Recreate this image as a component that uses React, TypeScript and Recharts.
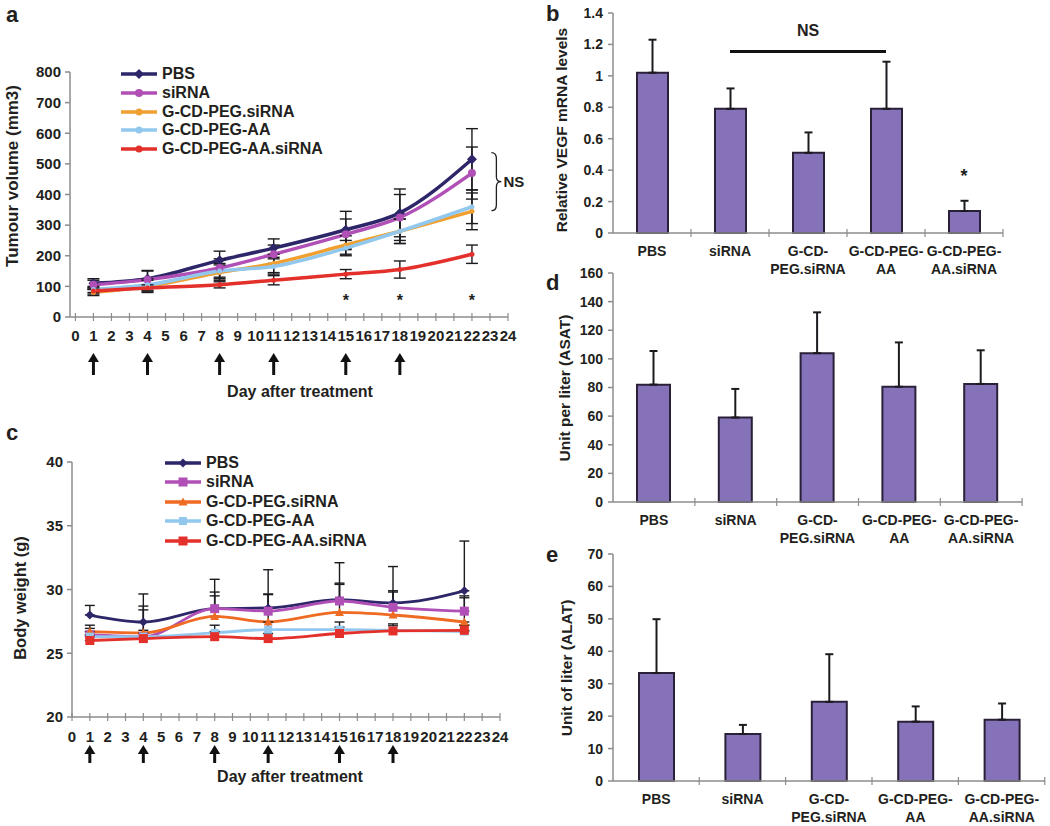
import React from 'react'
import {
  ComposedChart,
  Line,
  XAxis,
  YAxis,
  ErrorBar,
  ReferenceDot,
  ReferenceLine,
  BarChart,
  Bar,
} from 'recharts'

const FONT = '"Liberation Sans", Arial, Helvetica, sans-serif'
const INK = '#231f20'
const AXIS = '#8c8c8c'
const BAR_FILL = '#8672b8'
const BAR_EDGE = '#2a2138'
const ERR = '#1c1a1f'

// ---- shared x axis for the time courses (a, c)
const dayLabels = [0, 1, 2, 3, 4, 5, 6, 7, 8, 9, 10, 11, 12, 13, 14, 15, 16, 17, 18, 19, 20, 21, 22, 23, 24]
const treatmentDays = [1, 4, 8, 11, 15, 18]
const measureDays = [1, 4, 8, 11, 15, 18, 22]
const starDays = [15, 18, 22]

const groups = ['PBS', 'siRNA', 'G-CD-PEG.siRNA', 'G-CD-PEG-AA', 'G-CD-PEG-AA.siRNA']
const groupLabelLines = [['PBS'], ['siRNA'], ['G-CD-', 'PEG.siRNA'], ['G-CD-PEG-', 'AA'], ['G-CD-PEG-', 'AA.siRNA']]

// ---- a: tumour volume (mm3)
const tumourPBS = [110, 125, 185, 225, 285, 340, 515]
const tumourSiRNA = [105, 122, 160, 205, 270, 325, 470]
const tumourPegSiRNA = [80, 100, 145, 175, 235, 280, 345]
const tumourPegAA = [90, 105, 150, 165, 225, 280, 360]
const tumourPegAASiRNA = [85, 95, 105, 120, 140, 155, 205]
const tumourPBSErr = [15, 25, 30, 30, 60, 78, 100]
const tumourSiRNAErr = [15, 30, 30, 30, 50, 75, 85]
const tumourPegSiRNAErr = [10, 20, 25, 30, 30, 40, 60]
const tumourPegAAErr = [10, 20, 25, 25, 25, 40, 55]
const tumourPegAASiRNAErr = [10, 10, 10, 15, 15, 28, 30]

// ---- c: body weight (g), upper error only
const weightPBS = [28.0, 27.45, 28.5, 28.55, 29.2, 28.95, 29.9]
const weightSiRNA = [26.45, 26.3, 28.5, 28.3, 29.1, 28.6, 28.3]
const weightPegSiRNA = [26.7, 26.6, 27.9, 27.45, 28.2, 28.0, 27.45]
const weightPegAA = [26.3, 26.3, 26.6, 26.85, 26.85, 26.8, 26.7]
const weightPegAASiRNA = [26.0, 26.15, 26.3, 26.15, 26.55, 26.75, 26.8]
const weightPBSErr = [0.75, 2.2, 2.3, 3.0, 2.9, 2.85, 3.9]
const weightSiRNAErr = [0.5, 2.4, 1.3, 1.3, 1.4, 1.3, 1.2]
const weightPegSiRNAErr = [0.5, 1.8, 1.6, 2.2, 2.2, 1.8, 1.9]
const weightPegAAErr = [0.4, 0.5, 0.6, 0.6, 0.6, 0.5, 0.5]
const weightPegAASiRNAErr = [0.4, 0.4, 0.4, 0.4, 0.5, 0.4, 0.4]

// ---- b, d, e: bar panels
const vegfMean = [1.02, 0.79, 0.51, 0.79, 0.14]
const vegfErr = [0.21, 0.13, 0.13, 0.3, 0.065]
const asatMean = [82, 59, 104, 80.5, 82.5]
const asatErr = [23.5, 20, 28.5, 31, 23.5]
const alatMean = [33.3, 14.5, 24.4, 18.3, 18.9]
const alatErr = [16.6, 2.8, 14.7, 4.7, 5.0]

const vegfTicks = [0, 0.2, 0.4, 0.6, 0.8, 1, 1.2, 1.4]
const asatTicks = [0, 20, 40, 60, 80, 100, 120, 140, 160]
const alatTicks = [0, 10, 20, 30, 40, 50, 60, 70]
const tumourTicks = [0, 100, 200, 300, 400, 500, 600, 700, 800]
const weightTicks = [20, 25, 30, 35, 40]

const tumourMeans = [tumourPBS, tumourSiRNA, tumourPegSiRNA, tumourPegAA, tumourPegAASiRNA]
const tumourErrs = [tumourPBSErr, tumourSiRNAErr, tumourPegSiRNAErr, tumourPegAAErr, tumourPegAASiRNAErr]
const weightMeans = [weightPBS, weightSiRNA, weightPegSiRNA, weightPegAA, weightPegAASiRNA]
const weightErrs = [weightPBSErr, weightSiRNAErr, weightPegSiRNAErr, weightPegAAErr, weightPegAASiRNAErr]

// styling per series (a and c use slightly different markers/colours)
const styleA = [
  { color: '#2d2668', marker: 'diamond', size: 5 },
  { color: '#b04fb6', marker: 'circle', size: 4 },
  { color: '#f0a030', marker: 'circle', size: 2.5 },
  { color: '#92c8ee', marker: 'circle', size: 2.5 },
  { color: '#e4302b', marker: 'circle', size: 2.5 },
]
const styleC = [
  { color: '#2d2668', marker: 'diamond', size: 4.5 },
  { color: '#b04fb6', marker: 'square', size: 4.5 },
  { color: '#ef6a22', marker: 'triangle', size: 4.5 },
  { color: '#92c8ee', marker: 'square', size: 4 },
  { color: '#e4302b', marker: 'square', size: 4.5 },
]

function buildRows(means: number[][], errs: number[][], upperOnly: boolean) {
  return measureDays.map((day, i) => {
    const row: any = { day }
    means.forEach((m, s) => {
      row[`s${s}`] = m[i]
      row[`e${s}`] = upperOnly ? [0, errs[s][i]] : errs[s][i]
    })
    return row
  })
}

function barRows(mean: number[], err: number[]) {
  return groups.map((g, i) => ({ group: g, value: mean[i], err: [0, err[i]] }))
}

const tumourRows = buildRows(tumourMeans, tumourErrs, false)
const weightRows = buildRows(weightMeans, weightErrs, true)
const vegfRows = barRows(vegfMean, vegfErr)
const asatRows = barRows(asatMean, asatErr)
const alatRows = barRows(alatMean, alatErr)

function Marker({ kind, cx, cy, size, color }: any) {
  if (cx == null || cy == null) return null
  if (kind === 'diamond')
    return <path d={`M${cx},${cy - size} L${cx + size},${cy} L${cx},${cy + size} L${cx - size},${cy} Z`} fill={color} />
  if (kind === 'square')
    return <rect x={cx - size} y={cy - size} width={size * 2} height={size * 2} fill={color} />
  if (kind === 'triangle')
    return <path d={`M${cx},${cy - size} L${cx + size},${cy + size * 0.8} L${cx - size},${cy + size * 0.8} Z`} fill={color} />
  return <circle cx={cx} cy={cy} r={size} fill={color} />
}

const tickText = { fill: INK, fontSize: 14, fontWeight: 700, fontFamily: FONT }
const dayTickText = { ...tickText, fontSize: 15 }

function DayTick(props: any) {
  const { x, y, payload, labelDy, arrowTop, arrowLen } = props
  const v = payload.value
  return (
    <g>
      <line x1={x} x2={x} y1={y - 4} y2={y + 4} stroke={AXIS} strokeWidth={1.2} />
      <text x={x} y={y + labelDy} textAnchor="middle" {...dayTickText}>
        {v}
      </text>
      {treatmentDays.includes(v) && (
        <g>
          <line x1={x} x2={x} y1={y + arrowTop + 7} y2={y + arrowTop + arrowLen} stroke="#111" strokeWidth={3} />
          <path d={`M${x},${y + arrowTop} L${x + 5.5},${y + arrowTop + 9} L${x - 5.5},${y + arrowTop + 9} Z`} fill="#111" />
        </g>
      )}
    </g>
  )
}

function GroupTick(props: any) {
  const { x, y, payload, band } = props
  const lines = groupLabelLines[groups.indexOf(payload.value)] || [payload.value]
  return (
    <g>
      <line x1={x + band / 2} x2={x + band / 2} y1={y - 4} y2={y + 4} stroke={AXIS} strokeWidth={1.2} />
      {lines.map((t: string, i: number) => (
        <text key={i} x={x} y={y + 23 + i * 18} textAnchor="middle" {...tickText}>
          {t}
        </text>
      ))}
    </g>
  )
}

function SeriesLegend({ left, top, rowH, style, lineW, fontSize }: any) {
  return (
    <div style={{ position: 'absolute', left, top, fontFamily: FONT, fontWeight: 700, fontSize, color: INK }}>
      {groups.map((g, i) => (
        <div key={g} style={{ display: 'flex', alignItems: 'center', height: rowH }}>
          <svg width={lineW} height={14} style={{ marginRight: 4 }}>
            <line x1={1} x2={lineW - 1} y1={7} y2={7} stroke={style[i].color} strokeWidth={3.5} />
            <Marker kind={style[i].marker} cx={lineW / 2} cy={7} size={Math.max(style[i].size, 3.5)} color={style[i].color} />
          </svg>
          <span>{g}</span>
        </div>
      ))}
    </div>
  )
}

function VTitle({ x, y, text, size = 15.5 }: any) {
  return (
    <div
      style={{
        position: 'absolute',
        left: x,
        top: y,
        transform: 'translate(-50%, -50%) rotate(-90deg)',
        whiteSpace: 'nowrap',
        fontFamily: FONT,
        fontWeight: 700,
        fontSize: size,
        color: INK,
      }}
    >
      {text}
    </div>
  )
}

function Text({ x, y, text, size = 16, center = false }: any) {
  return (
    <div
      style={{
        position: 'absolute',
        left: x,
        top: y,
        transform: center ? 'translate(-50%, -50%)' : undefined,
        whiteSpace: 'nowrap',
        fontFamily: FONT,
        fontWeight: 700,
        fontSize: size,
        color: INK,
        lineHeight: 1,
      }}
    >
      {text}
    </div>
  )
}

function Brace(p: any) {
  const { cx, cy } = p
  const h = 29
  const d = `M${cx - 4},${cy - h} Q${cx + 1},${cy - h} ${cx + 1},${cy - h + 6} L${cx + 1},${cy - 5} Q${cx + 1},${cy} ${cx + 6},${cy} Q${cx + 1},${cy} ${cx + 1},${cy + 5} L${cx + 1},${cy + h - 6} Q${cx + 1},${cy + h} ${cx - 4},${cy + h}`
  return (
    <g>
      <path d={d} fill="none" stroke={INK} strokeWidth={1.3} />
      <text x={cx + 8} y={cy + 5} {...tickText} fontSize={15}>
        NS
      </text>
    </g>
  )
}

const starShape = (size: number) => (p: any) => (
  <text x={p.cx} y={p.cy + size / 2} textAnchor="middle" fill={INK} fontSize={size} fontWeight={700} fontFamily={FONT}>
    *
  </text>
)

function TimeCourse({ rows, style, yDomain, yTicks, xDomain, width, height, margin, yWidth, labelDy, arrowTop, arrowLen, lineW, capW, extras }: any) {
  return (
    <ComposedChart width={width} height={height} data={rows} margin={margin}>
      <XAxis
        type="number"
        dataKey="day"
        domain={xDomain}
        ticks={dayLabels}
        interval={0}
        allowDataOverflow
        tickSize={0}
        tickMargin={0}
        height={60}
        stroke={AXIS}
        strokeWidth={1.5}
        tick={<DayTick labelDy={labelDy} arrowTop={arrowTop} arrowLen={arrowLen} />}
      />
      <YAxis
        type="number"
        domain={yDomain}
        ticks={yTicks}
        interval={0}
        width={yWidth}
        stroke={AXIS}
        strokeWidth={1.5}
        tickSize={5}
        tickMargin={4}
        tick={dayTickText}
      />
      {groups.map((g, s) => (
        <Line
          key={g}
          name={g}
          dataKey={`s${s}`}
          type="monotone"
          stroke={style[s].color}
          strokeWidth={lineW}
          isAnimationActive={false}
          dot={(p: any) => (
            <Marker key={`${g}-${p.index}`} kind={style[s].marker} cx={p.cx} cy={p.cy} size={style[s].size} color={style[s].color} />
          )}
          activeDot={false}
        >
          <ErrorBar dataKey={`e${s}`} direction="y" width={capW} stroke={ERR} strokeWidth={1.4} isAnimationActive={false} />
        </Line>
      ))}
      {extras}
    </ComposedChart>
  )
}

function BarPanel({ rows, ticks, domain, width, height, margin, barSize, band, fmt, extras }: any) {
  return (
    <BarChart width={width} height={height} data={rows} margin={margin}>
      <XAxis
        dataKey="group"
        interval={0}
        tickSize={0}
        tickMargin={0}
        height={45}
        stroke={AXIS}
        strokeWidth={1.5}
        tick={<GroupTick band={band} />}
      />
      <YAxis
        type="number"
        domain={domain}
        ticks={ticks}
        interval={0}
        width={73}
        stroke={AXIS}
        strokeWidth={1.5}
        tickSize={5}
        tickMargin={5}
        tick={tickText}
        tickFormatter={fmt}
      />
      <Bar dataKey="value" fill={BAR_FILL} stroke={BAR_EDGE} strokeWidth={2} barSize={barSize} isAnimationActive={false}>
        <ErrorBar dataKey="err" direction="y" width={4} stroke={ERR} strokeWidth={2} isAnimationActive={false} />
      </Bar>
      {extras}
    </BarChart>
  )
}

export default function App() {
  return (
    <div style={{ position: 'absolute', left: 0, top: 0, width: 1050, height: 826, background: '#fff', overflow: 'hidden' }}>
      {/* a */}
      <div style={{ position: 'absolute', left: 0, top: 0 }}>
        <TimeCourse
          rows={tumourRows}
          style={styleA}
          yDomain={[0, 800]}
          yTicks={tumourTicks}
          xDomain={[-0.3, 24]}
          width={530}
          height={420}
          margin={{ top: 72, right: 22, bottom: 43, left: 0 }}
          yWidth={70}
          labelDy={24}
          arrowTop={36}
          arrowLen={22}
          lineW={3.5}
          capW={6}
          extras={[
            ...starDays.map((d) => (
              <ReferenceDot key={`star-${d}`} x={d} y={62} r={0} shape={starShape(16)} />
            )),
            <ReferenceDot key="brace" x={23.3} y={442} r={0} shape={Brace} ifOverflow="visible" />,
          ]}
        />
      </div>
      <SeriesLegend left={120} top={65} rowH={18.7} style={styleA} lineW={38} fontSize={16} />
      <Text x={300} y={392} text="Day after treatment" center />
      <Text x={6} y={4} text="a" size={22} />
      <VTitle x={13} y={176} text="Tumour volume (mm3)" size={17} />

      {/* c */}
      <div style={{ position: 'absolute', left: 0, top: 400 }}>
        <TimeCourse
          rows={weightRows}
          style={styleC}
          yDomain={[20, 40]}
          yTicks={weightTicks}
          xDomain={[0, 24]}
          width={530}
          height={400}
          margin={{ top: 62, right: 30, bottom: 23, left: 0 }}
          yWidth={72}
          labelDy={25}
          arrowTop={28}
          arrowLen={18}
          lineW={2.8}
          capW={5}
          extras={[]}
        />
      </div>
      <SeriesLegend left={164} top={453} rowH={19.5} style={styleC} lineW={38} fontSize={16} />
      <Text x={290} y={777} text="Day after treatment" center />
      <Text x={6} y={422} text="c" size={22} />
      <VTitle x={20} y={598} text="Body weight (g)" size={16.5} />

      {/* b */}
      <div style={{ position: 'absolute', left: 540, top: 0 }}>
        <BarPanel
          rows={vegfRows}
          ticks={vegfTicks}
          domain={[0, 1.4]}
          width={480}
          height={290}
          margin={{ top: 13, right: 17, bottom: 12, left: 0 }}
          barSize={31}
          band={78}
          fmt={(v: number) => String(parseFloat(v.toFixed(1)))}
          extras={[
            <ReferenceLine
              key="ns"
              segment={[
                { x: 'siRNA', y: 1.155 },
                { x: 'G-CD-PEG-AA', y: 1.155 },
              ]}
              stroke="#111"
              strokeWidth={3}
            />,
            <ReferenceDot
              key="nst"
              x="G-CD-PEG.siRNA"
              y={1.29}
              r={0}
              shape={(p: any) => (
                <text x={p.cx} y={p.cy + 6} textAnchor="middle" {...tickText} fontSize={16}>
                  NS
                </text>
              )}
            />,
            <ReferenceDot key="star" x="G-CD-PEG-AA.siRNA" y={0.38} r={0} shape={starShape(18)} />,
          ]}
        />
      </div>
      <Text x={546} y={3} text="b" size={22} />
      <VTitle x={562} y={130} text="Relative VEGF mRNA levels" />

      {/* d */}
      <div style={{ position: 'absolute', left: 540, top: 260 }}>
        <BarPanel
          rows={asatRows}
          ticks={asatTicks}
          domain={[0, 160]}
          width={500}
          height={290}
          margin={{ top: 13, right: 18, bottom: 3, left: 0 }}
          barSize={33}
          band={82}
          fmt={(v: number) => String(v)}
          extras={[]}
        />
      </div>
      <Text x={546} y={272} text="d" size={22} />
      <VTitle x={565} y={388} text="Unit per liter (ASAT)" />

      {/* e */}
      <div style={{ position: 'absolute', left: 540, top: 540 }}>
        <BarPanel
          rows={alatRows}
          ticks={alatTicks}
          domain={[0, 70]}
          width={510}
          height={286}
          margin={{ top: 14, right: 5, bottom: 0, left: 0 }}
          barSize={35}
          band={86}
          fmt={(v: number) => String(v)}
          extras={[]}
        />
      </div>
      <Text x={546} y={544} text="e" size={22} />
      <VTitle x={567} y={668} text="Unit of liter (ALAT)" />
    </div>
  )
}
